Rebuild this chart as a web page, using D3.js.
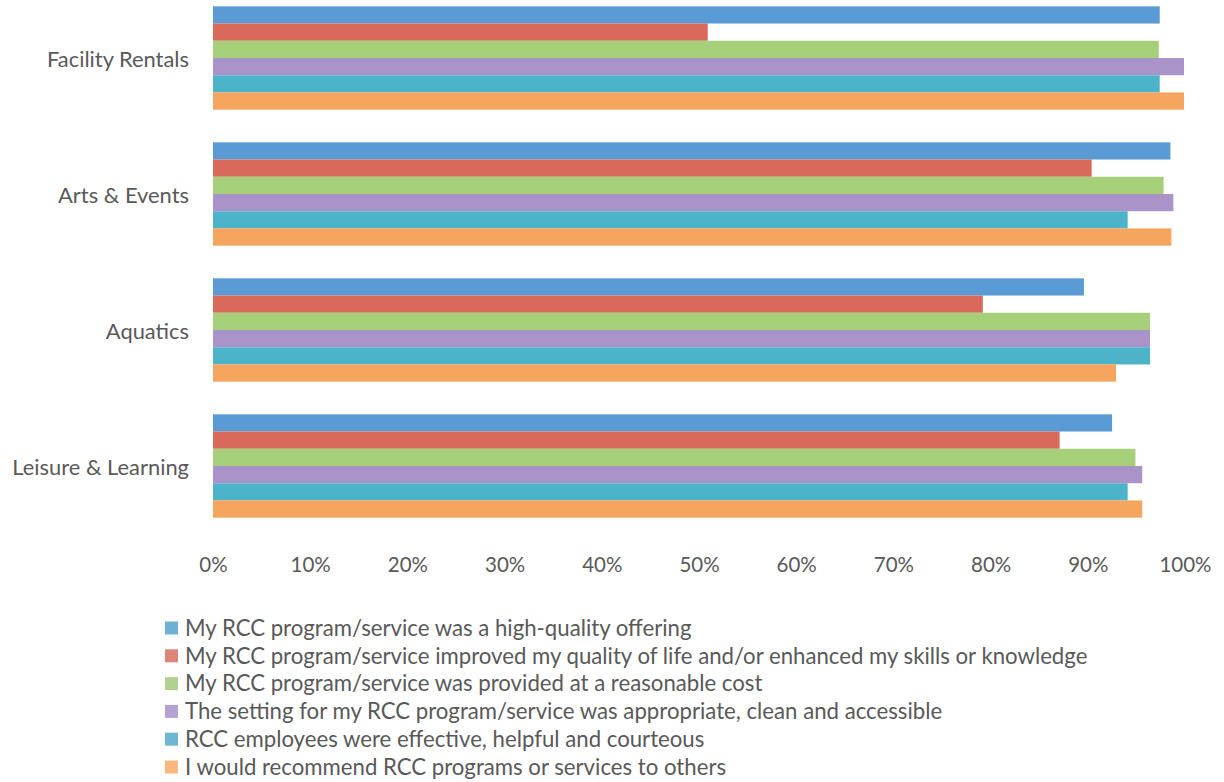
<!DOCTYPE html>
<html><head><meta charset="utf-8">
<script src="https://cdn.jsdelivr.net/npm/d3@7"></script>
<style>
html,body{margin:0;padding:0;background:#fff;}
svg text{font-family:Lato, "Open Sans", sans-serif;fill:#595959;}
</style></head>
<body>
<svg id="chart" width="1224" height="782"></svg>
<script>
const categories = ["Facility Rentals","Arts & Events","Aquatics","Leisure & Learning"];
const seriesNames = [
  "My RCC program/service was a high-quality offering",
  "My RCC program/service improved my quality of life and/or enhanced my skills or knowledge",
  "My RCC program/service was provided at a reasonable cost",
  "The setting for my RCC program/service was appropriate, clean and accessible",
  "RCC employees were effective, helpful and courteous",
  "I would recommend RCC programs or services to others"
];
const highQuality   = [0.974, 0.985, 0.896, 0.925];
const qualityOfLife = [0.509, 0.904, 0.792, 0.871];
const reasonableCost= [0.973, 0.978, 0.964, 0.949];
const setting       = [0.999, 0.988, 0.964, 0.956];
const employees     = [0.974, 0.941, 0.964, 0.941];
const recommend     = [0.999, 0.986, 0.929, 0.956];
const tickValues = [0,0.1,0.2,0.3,0.4,0.5,0.6,0.7,0.8,0.9,1.0];
const colors = ["#5b9bd5","#d9695b","#a6cf7a","#a993c9","#4db3c9","#f6a55e"];
const legendColors = ["#6eb1d4","#db8579","#b0d28e","#b3a3d1","#6eb6d2","#f7b97f"];

const seriesValues = [highQuality, qualityOfLife, reasonableCost, setting, employees, recommend];

const svg = d3.select("#chart");
const x = d3.scaleLinear().domain([0,1]).range([213,1185]);
const y = d3.scaleBand().domain(categories).range([-10,534]).paddingInner(0.24).paddingOuter(0.12);
const ySub = d3.scaleBand().domain(d3.range(seriesNames.length)).range([0,y.bandwidth()]);

const groups = svg.append("g").selectAll("g").data(categories).join("g")
  .attr("transform", d => `translate(0,${y(d)})`);
groups.selectAll("rect").data((c,ci) => seriesValues.map((vals,si) => ({si, v: vals[ci]})))
  .join("rect")
  .attr("x", x(0))
  .attr("y", d => ySub(d.si))
  .attr("width", d => x(d.v) - x(0))
  .attr("height", ySub.bandwidth())
  .attr("fill", d => colors[d.si]);

// category axis
const yAxis = svg.append("g").attr("transform", `translate(${x(0)-24},2)`)
  .call(d3.axisLeft(y).tickSize(0).tickPadding(0));
yAxis.select(".domain").remove();
yAxis.selectAll("text").attr("font-size", 21.9).style("font-family","Lato, sans-serif").attr("fill","#595959");

// value axis
const xAxis = svg.append("g").attr("transform", `translate(0,557)`)
  .call(d3.axisBottom(x).tickValues(tickValues).tickFormat(d3.format(".0%")).tickSize(0).tickPadding(0));
xAxis.select(".domain").remove();
xAxis.selectAll("text").attr("font-size", 20.5).attr("dy","0.71em").style("font-family","Lato, sans-serif").attr("fill","#595959");

// legend
const legend = svg.append("g").attr("transform","translate(165,628)");
const items = legend.selectAll("g").data(seriesNames).join("g")
  .attr("transform",(d,i)=>`translate(0,${i*27.8})`);
items.append("rect").attr("x",0).attr("y",-6.5).attr("width",13).attr("height",13)
  .attr("fill",(d,i)=>legendColors[i]);
items.append("text").attr("x",20).attr("dy","0.35em").attr("font-size",22.2).text(d=>d);
</script>
</body></html>
